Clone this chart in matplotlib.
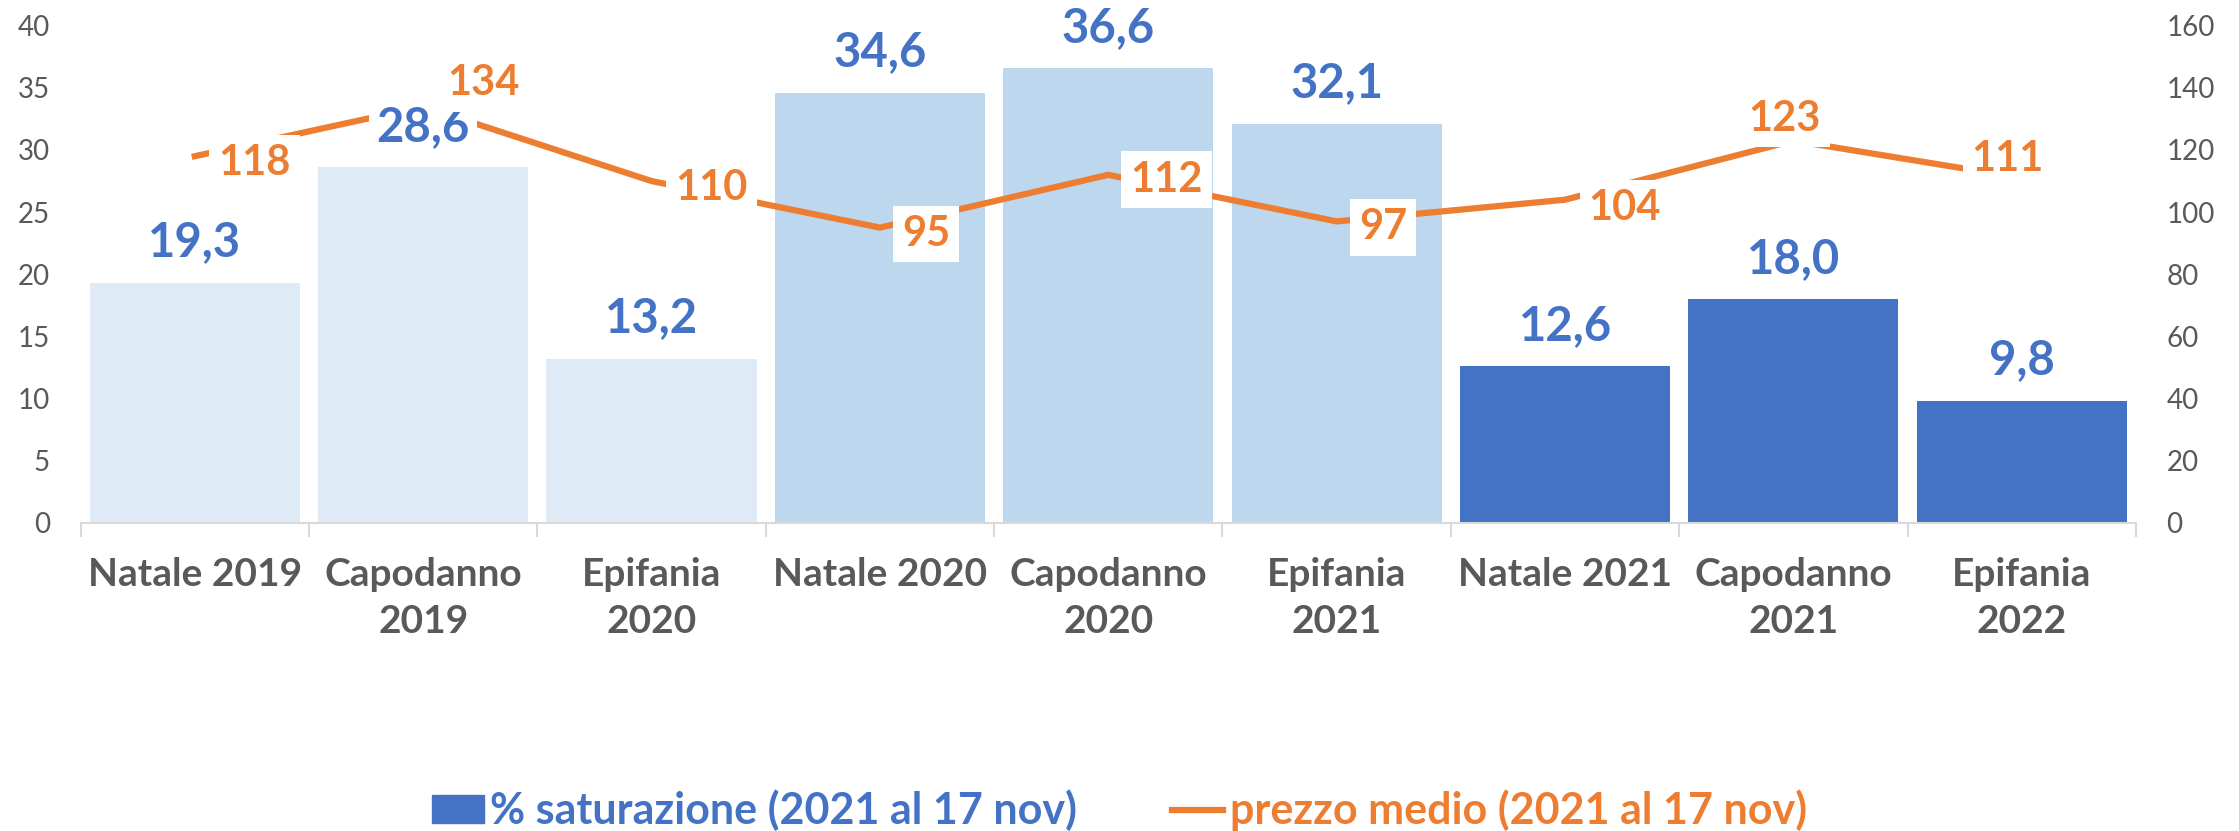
import numpy as np
import matplotlib
matplotlib.use("Agg")
from matplotlib import pyplot as plt
from matplotlib.patches import Patch
from matplotlib.lines import Line2D

# ----------- dati -----------
categories = ["Natale 2019", "Capodanno\n2019", "Epifania\n2020",
              "Natale 2020", "Capodanno\n2020", "Epifania\n2021",
              "Natale 2021", "Capodanno\n2021", "Epifania\n2022"]
saturazione = [19.3, 28.6, 13.2, 34.6, 36.6, 32.1, 12.6, 18.0, 9.8]
prezzo = [118, 134, 110, 95, 112, 97, 104, 123, 111]

left_ticks = [0, 5, 10, 15, 20, 25, 30, 35, 40]
right_ticks = [0, 20, 40, 60, 80, 100, 120, 140, 160]

bar_label = "% saturazione (2021 al 17 nov)"
line_label = "prezzo medio (2021 al 17 nov)"
# -------- end of setting -----

blue = "#4472C4"
orange = "#ED7D31"
grey = "#595959"
bar_colors = ["#DEEBF7"] * 3 + ["#BDD7EE"] * 3 + [blue] * 3

# where each price label sits relative to its point (pt, alignment)
price_offsets = [(17, -13.5), (17, 8), (17, -14), (16, -13), (16, -12),
                 (16, -13), (17, -14.5), (-6.5, 7), (-10, 5)]
price_ha = ["left"] * 7 + ["center"] * 2

plt.rcParams["font.family"] = ["Lato", "DejaVu Sans"]

fig = plt.figure(figsize=(22.39, 8.31), dpi=100)
ax = fig.add_axes([0.036, 0.371, 0.918, 0.598])
x = np.arange(len(categories))

ax.bar(x, saturazione, width=0.92, color=bar_colors, zorder=1)
ax.set_ylim(0, 40)
ax.set_xlim(-0.5, len(categories) - 0.5)
ax.set_yticks(left_ticks)
ax.tick_params(axis="y", length=0, pad=22, labelsize=20, labelcolor=grey)

ax.set_xticks(x)
ax.set_xticklabels(categories, fontsize=28, fontweight="bold", color=grey,
                   linespacing=1.4)
ax.tick_params(axis="x", which="major", length=0, pad=25)
ax.set_xticks(np.arange(len(categories) + 1) - 0.5, minor=True)
ax.tick_params(axis="x", which="minor", length=10, width=1.5, color="#D9D9D9")

for side in ["top", "right", "left"]:
    ax.spines[side].set_visible(False)
ax.spines["bottom"].set_color("#D9D9D9")
ax.spines["bottom"].set_linewidth(1.5)

ax2 = ax.twinx()
ax2.set_position(ax.get_position())
ax2.plot(x, prezzo, color=orange, linewidth=4.5, zorder=2)
ax2.set_ylim(0, 160)
ax2.set_yticks(right_ticks)
ax2.tick_params(axis="y", length=0, pad=22, labelsize=20, labelcolor=grey)
for side in ["top", "right", "left", "bottom"]:
    ax2.spines[side].set_visible(False)

# etichette barre (sopra la linea, con fondo bianco)
for xi, v in zip(x, saturazione):
    ax2.annotate(f"{v:.1f}".replace(".", ","), (xi, v), xycoords=ax.transData,
                 xytext=(0, 19), textcoords="offset points", ha="center",
                 va="baseline", fontsize=34, fontweight="bold", color=blue,
                 zorder=3,
                 bbox=dict(boxstyle="square,pad=0.15", fc="white", ec="none"))

for xi, p, off, ha in zip(x, prezzo, price_offsets, price_ha):
    ax2.annotate(str(p), (xi, p), xytext=off, textcoords="offset points",
                 ha=ha, va="baseline", fontsize=30, fontweight="bold",
                 color=orange, zorder=3,
                 bbox=dict(boxstyle="square,pad=0.22", fc="white", ec="none"))

handles = [Patch(color=blue), Line2D([0], [0], color=orange, linewidth=4.5)]
leg = fig.legend(handles, [bar_label, line_label], loc="center",
                 bbox_to_anchor=(0.5, 0.025), ncol=2, frameon=False,
                 prop={"size": 31, "weight": "bold"}, handlelength=1.2,
                 handleheight=0.6, handletextpad=0.15, columnspacing=2.2)
for t, c in zip(leg.get_texts(), [blue, orange]):
    t.set_color(c)

fig.savefig("out.png", dpi=100)
